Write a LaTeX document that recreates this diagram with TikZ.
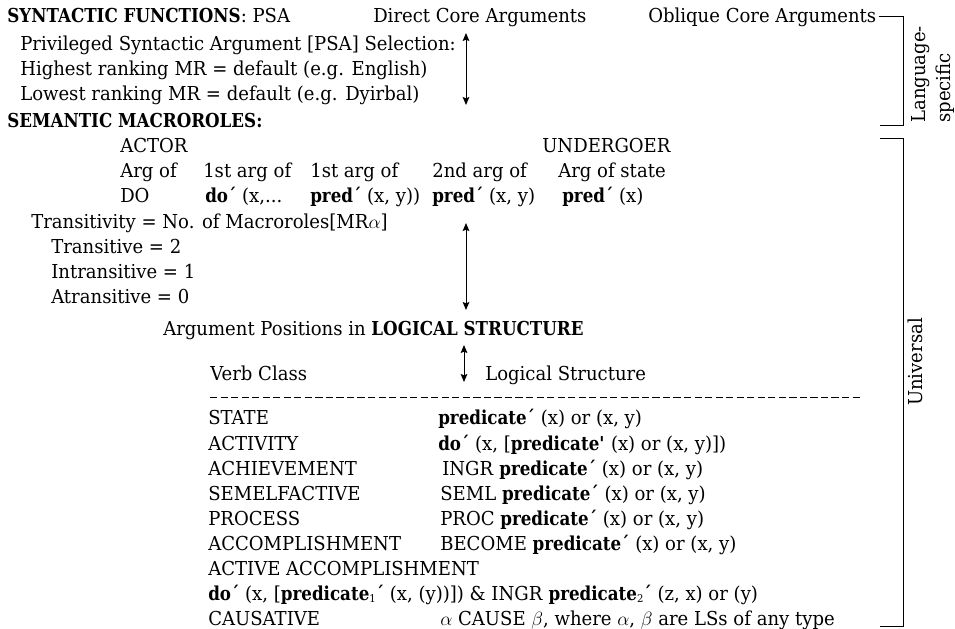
\documentclass[tikz,border=0pt]{standalone}
\usepackage{fontspec}
\setmainfont{DejaVu Serif}[FakeStretch=0.94,BoldFeatures={FakeStretch=0.87}]
\usetikzlibrary{arrows.meta}
% small index digit after a bold predicate name
\newcommand\predidx[1]{\raisebox{-0.2ex}{\fontsize{8}{8}\selectfont\mdseries #1}}
\tikzset{
  txt/.style={anchor=base west, inner sep=0pt},
  dbl/.style={line width=0.75pt, {Stealth[length=6pt,width=5pt,inset=1pt]}-{Stealth[length=6pt,width=5pt,inset=1pt]}},
  brk/.style={line width=0.75pt},
  every node/.style={font=\fontsize{14.4}{18.75}\selectfont}
}
\begin{document}
\begin{tikzpicture}[x=0.75pt,y=-0.75pt]
\useasboundingbox (0,0) rectangle (955,628);

% --- syntactic functions ---
\node[txt] (synf) at (7,22) {\textbf{SYNTACTIC FUNCTIONS}: PSA};
\node[txt] (dca) at (373,22) {Direct Core Arguments};
\node[txt] (oca) at (648,22) {Oblique Core Arguments};
\node[txt] (psasel) at (20,50) {Privileged Syntactic Argument [PSA] Selection:};
\node[txt] (high) at (20,75) {Highest ranking MR = default (e.g. English)};
\node[txt] (low) at (20,100) {Lowest ranking MR = default (e.g. Dyirbal)};

% --- semantic macroroles ---
\node[txt] (semmr) at (7,127) {\textbf{SEMANTIC MACROROLES:}};
\node[txt] (actor) at (120,152) {ACTOR};
\node[txt] (undergoer) at (542,152) {UNDERGOER};
\node[txt] (c1a) at (120,177) {Arg of};
\node[txt] (c2a) at (203,177) {1st arg of};
\node[txt] (c3a) at (310,177) {1st arg of};
\node[txt] (c4a) at (432,177) {2nd arg of};
\node[txt] (c5a) at (558,177) {Arg of state};
\node[txt] (c1b) at (120,202) {DO};
\node[txt] (c2b) at (205,202) {\textbf{do´} (x,...};
\node[txt] (c3b) at (310,202) {\textbf{pred´} (x, y))};
\node[txt] (c4b) at (432,202) {\textbf{pred´} (x, y)};
\node[txt] (c5b) at (562,202) {\textbf{pred´} (x)};

% --- transitivity ---
\node[txt] (trans) at (31,228) {Transitivity = No. of Macroroles[MR$\alpha$]};
\node[txt] (tr2) at (51,253) {Transitive = 2};
\node[txt] (tr1) at (51,278) {Intransitive = 1};
\node[txt] (tr0) at (51,303) {Atransitive = 0};

% --- logical structure ---
\node[txt] (argpos) at (163,335) {Argument Positions in \textbf{LOGICAL STRUCTURE}};
\node[txt] (vclass) at (210,380) {Verb Class};
\node[txt] (lstruct) at (485,380) {Logical Structure};
\coordinate (dashL) at (210,397);
\coordinate (dashR) at (862,397);
\draw[line width=0.75pt, dash pattern=on 5.4pt off 2.5pt] (dashL) -- (dashR);

\node[txt] (vState) at (208,424) {STATE};
\node[txt] (lState) at (438,424) {\textbf{predicate´} (x) or (x, y)};
\node[txt] (vAct) at (208,450) {ACTIVITY};
\node[txt] (lAct) at (438,450) {\textbf{do´} (x, [\textbf{predicate\textquotesingle} (x) or (x, y)])};
\node[txt] (vAch) at (208,475) {ACHIEVEMENT};
\node[txt] (lAch) at (442,475) {INGR \textbf{predicate´} (x) or (x, y)};
\node[txt] (vSem) at (208,500) {SEMELFACTIVE};
\node[txt] (lSem) at (440,500) {SEML \textbf{predicate´} (x) or (x, y)};
\node[txt] (vProc) at (208,525) {PROCESS};
\node[txt] (lProc) at (440,525) {PROC \textbf{predicate´} (x) or (x, y)};
\node[txt] (vAcc) at (208,550) {ACCOMPLISHMENT};
\node[txt] (lAcc) at (440,550) {BECOME \textbf{predicate´} (x) or (x, y)};
\node[txt] (vAAcc) at (208,575) {ACTIVE ACCOMPLISHMENT};
\node[txt] (lAAcc) at (208,600) {\textbf{do´} (x, [\textbf{predicate\predidx{1}´} (x, (y))]) \& INGR \textbf{predicate\predidx{2}´} (z, x) or (y)};
\node[txt] (vCaus) at (208,625) {CAUSATIVE};
\node[txt] (lCaus) at (440,625) {$\alpha$ CAUSE $\beta$, where $\alpha$, $\beta$ are LSs of any type};

% --- linking arrows ---
\coordinate (a1t) at (466,33);  \coordinate (a1b) at (466,105);
\coordinate (a2t) at (466,223); \coordinate (a2b) at (466,310);
\coordinate (a3t) at (464,345); \coordinate (a3b) at (464,382);
\draw[dbl] (a1t) -- (a1b);
\draw[dbl] (a2t) -- (a2b);
\draw[dbl] (a3t) -- (a3b);

% --- brackets on the right ---
\coordinate (lsBot) at (903,125);
\coordinate (lsEnd) at (880,125);
\draw[brk] ([xshift=1.5pt]oca.east) -- (oca.east -| lsBot) -- (lsBot) -- (lsEnd);
\node[txt, rotate=90] (lang1) at (925,123) {Language-};
\node[txt, rotate=90] (lang2) at (950,123) {specific};

\coordinate (uTL) at (880,138); \coordinate (uTR) at (903,138);
\coordinate (uBR) at (903,626); \coordinate (uBL) at (880,626);
\draw[brk] (uTL) -- (uTR) -- (uBR) -- (uBL);
\node[rotate=90, anchor=base, inner sep=0pt] (univ) at (922,362) {Universal};
\end{tikzpicture}
\end{document}
